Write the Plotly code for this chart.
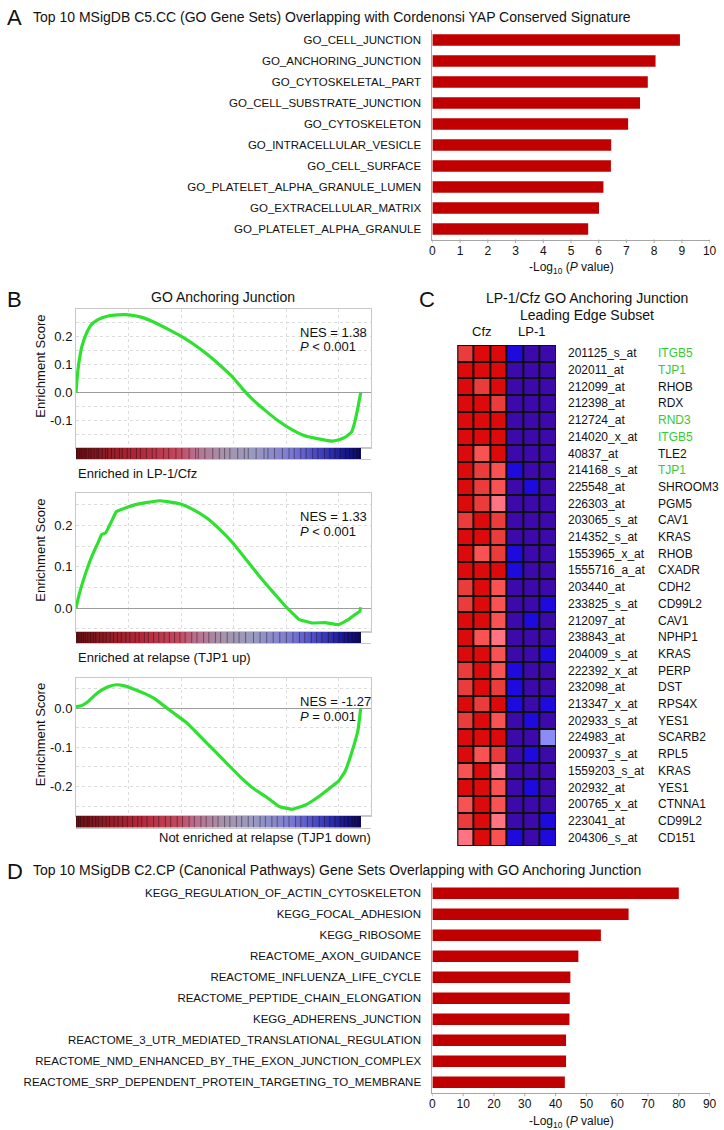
import plotly.graph_objects as go

W, H = 724, 1130
FONT = "Liberation Sans, Arial, Helvetica, sans-serif"


def X(px):
    return px / W


def Y(py):
    return 1 - py / H


# ---------------- Panel A data ----------------
a_terms = ["GO_CELL_JUNCTION", "GO_ANCHORING_JUNCTION", "GO_CYTOSKELETAL_PART",
           "GO_CELL_SUBSTRATE_JUNCTION", "GO_CYTOSKELETON", "GO_INTRACELLULAR_VESICLE",
           "GO_CELL_SURFACE", "GO_PLATELET_ALPHA_GRANULE_LUMEN", "GO_EXTRACELLULAR_MATRIX",
           "GO_PLATELET_ALPHA_GRANULE"]
a_values = [8.93, 8.05, 7.77, 7.49, 7.06, 6.45, 6.44, 6.17, 6.01, 5.62]
a_ticks = [0, 1, 2, 3, 4, 5, 6, 7, 8, 9, 10]

# ---------------- Panel D data ----------------
d_terms = ["KEGG_REGULATION_OF_ACTIN_CYTOSKELETON", "KEGG_FOCAL_ADHESION", "KEGG_RIBOSOME",
           "REACTOME_AXON_GUIDANCE", "REACTOME_INFLUENZA_LIFE_CYCLE",
           "REACTOME_PEPTIDE_CHAIN_ELONGATION", "KEGG_ADHERENS_JUNCTION",
           "REACTOME_3_UTR_MEDIATED_TRANSLATIONAL_REGULATION",
           "REACTOME_NMD_ENHANCED_BY_THE_EXON_JUNCTION_COMPLEX",
           "REACTOME_SRP_DEPENDENT_PROTEIN_TARGETING_TO_MEMBRANE"]
d_values = [80.0, 63.7, 54.7, 47.4, 44.8, 44.6, 44.5, 43.4, 43.4, 43.0]
d_ticks = [0, 10, 20, 30, 40, 50, 60, 70, 80, 90]

# ---------------- Panel B data (GSEA running enrichment scores) ----------------
n_genes = 21650
es1_rank = [0, 100, 200, 450, 825, 1200, 1700, 2450, 3200, 4000, 4950, 5950, 6950, 7950,
            8950, 9950, 10950, 11950, 12700, 13450, 14450, 15450, 16450, 17450, 18450,
            19450, 20000, 20450, 20950, 21200, 21450, 21650]
es1_score = [0.0, 0.06, 0.10, 0.165, 0.215, 0.245, 0.262, 0.274, 0.278, 0.278, 0.270,
             0.252, 0.228, 0.203, 0.173, 0.138, 0.098, 0.054, 0.012, -0.025, -0.066,
             -0.103, -0.133, -0.155, -0.165, -0.173, -0.168, -0.160, -0.141, -0.105,
             -0.051, 0.0]
es2_rank = [0, 200, 575, 1200, 1700, 1950, 2250, 2700, 3075, 3700, 4450, 5450, 6325, 6950,
            7950, 8950, 9950, 10950, 11950, 12950, 13950, 14950, 15950, 16450, 16950,
            17950, 18950, 19950, 20700, 21200, 21575, 21650]
es2_score = [0.0, 0.028, 0.069, 0.125, 0.160, 0.178, 0.182, 0.210, 0.234, 0.242, 0.250,
             0.256, 0.260, 0.258, 0.252, 0.238, 0.218, 0.190, 0.157, 0.117, 0.077, 0.040,
             0.004, -0.012, -0.027, -0.036, -0.035, -0.040, -0.028, -0.016, -0.008, 0.002]
es3_rank = [0, 450, 950, 1450, 1950, 2450, 3075, 3700, 4450, 5200, 5950, 6700, 7450, 8450,
            9450, 10450, 11450, 12450, 13450, 14450, 15450, 16450, 17450, 18450, 19450,
            19950, 20450, 20950, 21450, 21650]
es3_score = [0.004, 0.007, 0.018, 0.034, 0.046, 0.055, 0.060, 0.057, 0.048, 0.038, 0.025,
             0.006, -0.013, -0.038, -0.072, -0.106, -0.140, -0.174, -0.204, -0.226, -0.251,
             -0.258, -0.247, -0.226, -0.200, -0.187, -0.162, -0.115, -0.055, 0.0]
es_tickvals = [[-0.1, 0.0, 0.1, 0.2], [0.0, 0.1, 0.2], [-0.2, -0.1, 0.0]]
es_ticktext = [["-0.1", "0.0", "0.1", "0.2"], ["0.0", "0.1", "0.2"], ["-0.2", "-0.1", "0.0"]]
es_ranges = [[-0.196, 0.298], [-0.0566, 0.278], [-0.275, 0.078]]
nes_text = ["NES = 1.38", "NES = 1.33", "NES = -1.27"]
p_text = ["<i>P</i> &lt; 0.001", "<i>P</i> &lt; 0.001", "<i>P</i> = 0.001"]
bar_labels = ["Enriched in LP-1/Cfz", "Enriched at relapse (TJP1 up)",
              "Not enriched at relapse (TJP1 down)"]
# gene-set member positions in the ranked lists (estimated)
hits1 = [40, 150, 290, 430, 610, 760, 980, 1150, 1380, 1600, 1720, 1990, 2250, 2400, 2700,
         2950, 3300, 3520, 3900, 4150, 4600, 4900, 5350, 5800, 6100, 6650, 7050, 7600,
         8050, 8600, 9100, 9300, 9800, 10400, 10900, 11300, 11700, 12300, 12800, 13100,
         13700, 14300, 14600, 15100, 15700, 16200, 16600, 17100, 17500, 18000, 18400,
         18900, 19300, 19700, 20100, 20500, 20800, 21100, 21350, 21550]
hits2 = [80, 220, 400, 560, 700, 900, 1100, 1320, 1500, 1800, 2050, 2300, 2600, 2850,
         3150, 3450, 3800, 4100, 4500, 4800, 5200, 5500, 5900, 6300, 6700, 7100, 7500,
         7900, 8300, 8800, 9200, 9700, 10100, 10600, 11000, 11500, 12000, 12400, 12900,
         13500, 14000, 14500, 15000, 15500, 16000, 16500, 17000, 17400, 17900, 18300,
         18700, 19200, 19600, 20000, 20400, 20700, 21000, 21250, 21500]
hits3 = [30, 200, 350, 600, 850, 1000, 1250, 1500, 1700, 2000, 2300, 2550, 2900, 3200,
         3550, 3900, 4300, 4700, 5000, 5400, 5900, 6300, 6800, 7200, 7700, 8100, 8600,
         9000, 9500, 9900, 10400, 10800, 11300, 11700, 12200, 12600, 13100, 13500, 14000,
         14400, 14900, 15300, 15800, 16200, 16700, 17100, 17600, 18000, 18500, 18900,
         19300, 19700, 20100, 20400, 20700, 21000, 21200, 21450, 21600]

# ---------------- Panel C data (leading edge heatmap) ----------------
c_samples = ["Cfz", "Cfz", "Cfz", "LP-1", "LP-1", "LP-1"]
c_probes = ["201125_s_at", "202011_at", "212099_at", "212398_at", "212724_at", "214020_x_at",
            "40837_at", "214168_s_at", "225548_at", "226303_at", "203065_s_at",
            "214352_s_at", "1553965_x_at", "1555716_a_at", "203440_at", "233825_s_at",
            "212097_at", "238843_at", "204009_s_at", "222392_x_at", "232098_at",
            "213347_x_at", "202933_s_at", "224983_at", "200937_s_at", "1559203_s_at",
            "202932_at", "200765_x_at", "223041_at", "204306_s_at"]
c_genes = ["ITGB5", "TJP1", "RHOB", "RDX", "RND3", "ITGB5", "TLE2", "TJP1", "SHROOM3", "PGM5",
           "CAV1", "KRAS", "RHOB", "CXADR", "CDH2", "CD99L2", "CAV1", "NPHP1", "KRAS", "PERP",
           "DST", "RPS4X", "YES1", "SCARB2", "RPL5", "KRAS", "YES1", "CTNNA1", "CD99L2",
           "CD151"]
c_highlight = ["ITGB5", "TJP1", "RND3"]
# expression level codes: 4 dark red, 3 red, 2 light red, 1 pink, -1 lavender, -2 blue, -3 indigo
c_levels = [
    [3, 4, 4, -2, -3, -3], [4, 4, 4, -3, -3, -3], [4, 3, 4, -3, -3, -3],
    [4, 4, 3, -3, -3, -3], [4, 4, 4, -3, -3, -3], [4, 4, 4, -3, -3, -3],
    [4, 2, 4, -3, -3, -3], [4, 3, 2, -2, -3, -3], [4, 3, 2, -3, -2, -3],
    [4, 3, 1, -3, -3, -3], [3, 4, 3, -3, -3, -3], [4, 4, 3, -3, -3, -3],
    [4, 2, 3, -2, -3, -3], [4, 4, 4, -2, -3, -3], [3, 4, 2, -3, -3, -3],
    [3, 4, 2, -3, -3, -2], [4, 4, 2, -3, -2, -3], [4, 2, 1, -3, -3, -3],
    [4, 4, 2, -3, -3, -2], [3, 4, 2, -2, -3, -3], [3, 4, 3, -2, -3, -3],
    [4, 3, 4, -2, -3, -2], [3, 4, 2, -3, -2, -3], [4, 4, 4, -3, -3, -1],
    [4, 2, 3, -3, -2, -3], [2, 4, 1, -3, -3, -3], [4, 4, 2, -3, -2, -3],
    [2, 4, 2, -3, -3, -3], [3, 4, 1, -3, -3, -2], [1, 4, 2, -2, -3, -2],
]

# ---------------- styles ----------------
BAR_RED = "#C00000"
AXIS_GRAY = "#A6A6A6"
BOX_GRAY = "#C8C8C8"
GRID_GRAY = "#DCDCDC"
ES_GREEN = "#30E030"
heat_scale = [[0.0, "#3C0AAA"], [1 / 7, "#1E0ADC"], [2 / 7, "#8C8CF5"], [3 / 7, "#FFFFFF"],
              [4 / 7, "#FF7382"], [5 / 7, "#F95252"], [6 / 7, "#EB3C3C"], [1.0, "#DC0A0A"]]
barcode_scale = [[0.0, "#6A1212"], [0.10, "#8C1C24"], [0.22, "#B02838"], [0.36, "#C04A5E"],
                 [0.42, "#B8708E"], [0.52, "#A494AC"], [0.62, "#9A9AC0"], [0.75, "#7C7CD2"],
                 [0.86, "#4040BC"], [0.94, "#18188E"], [1.0, "#0A0A5C"]]

fig = go.Figure()
annotations = []
shapes = []


def ann(text, x, y, size, xanchor="left", color="#111111", xref="paper", yref="paper",
        angle=0):
    annotations.append(dict(text=text, x=x, y=y, xref=xref, yref=yref, xanchor=xanchor,
                            yanchor="middle", showarrow=False, textangle=angle,
                            font=dict(size=size, color=color, family=FONT)))


# ---------------- Panel A & D bar charts ----------------
def bar_panel(terms, values, ticks, xa, ya, top, bottom, title_y, axis_title_y, letter,
              title):
    fig.add_trace(go.Bar(x=values, y=terms, orientation="h", marker_color=BAR_RED,
                         marker_line_width=0, xaxis=xa, yaxis=ya, hoverinfo="skip"))
    xkey = "xaxis" + xa[1:]
    ykey = "yaxis" + ya[1:]
    fig.update_layout(**{
        xkey: dict(domain=[X(435.4), X(716.5)], range=[ticks[0], ticks[-1]], anchor=ya,
                   tickvals=ticks, showline=True, linecolor=AXIS_GRAY, linewidth=1,
                   ticks="", showgrid=False, zeroline=False,
                   tickfont=dict(size=12, family=FONT, color="#111111")),
        ykey: dict(domain=[Y(bottom), Y(top)], anchor=xa, type="category",
                   categoryorder="array", categoryarray=terms,
                   range=[len(terms) - 0.5, -0.5], showline=True, linecolor=AXIS_GRAY,
                   linewidth=1, ticks="outside", ticklen=8, tickcolor="rgba(0,0,0,0)",
                   showgrid=False, zeroline=False,
                   tickfont=dict(size=11.5, family=FONT, color="#111111")),
    })
    # small outside tick marks at the axis tick values
    for t in ticks:
        shapes.append(dict(type="line", xref=xa, yref="paper", x0=t, x1=t,
                           y0=Y(bottom), y1=Y(bottom + 3.5),
                           line=dict(color=AXIS_GRAY, width=1)))
    ann(letter, X(2), Y(title_y + 1), 22)
    ann(title, X(28), Y(title_y), 14)
    ann("-Log<sub>10</sub> (<i>P</i> value)", X(576), Y(axis_title_y), 12, xanchor="center")


bar_panel(a_terms, a_values, a_ticks, "x", "y", 29.5, 239.5, 17, 268, "A",
          "Top 10 MSigDB C5.CC (GO Gene Sets) Overlapping with Cordenonsi YAP Conserved Signature")
bar_panel(d_terms, d_values, d_ticks, "x9", "y9", 882.8, 1092.8, 870, 1121.5, "D",
          "Top 10 MSigDB C2.CP (Canonical Pathways) Gene Sets Overlapping with GO Anchoring Junction")

# ---------------- Panel B GSEA plots ----------------
curves = [(es1_rank, es1_score), (es2_rank, es2_score), (es3_rank, es3_score)]
hit_lists = [hits1, hits2, hits3]
curve_tops = [309.3, 493.3, 677.7]
curve_h = 138.2
bar_h = 11.6
bin_centers = list(range(25, n_genes, 50))
for i in range(3):
    cx, cy = "x%d" % (2 + 2 * i), "y%d" % (2 + 2 * i)
    bx, by = "x%d" % (3 + 2 * i), "y%d" % (3 + 2 * i)
    top = curve_tops[i]
    bottom = top + curve_h
    fig.add_trace(go.Scatter(x=curves[i][0], y=curves[i][1], mode="lines",
                             line=dict(color=ES_GREEN, width=3.2, shape="spline",
                                       smoothing=0.3),
                             xaxis=cx, yaxis=cy, hoverinfo="skip"))
    fig.add_trace(go.Heatmap(x=bin_centers, y=[0.5], z=[bin_centers], zmin=0, zmax=n_genes,
                             colorscale=barcode_scale, showscale=False, xaxis=bx, yaxis=by,
                             hoverinfo="skip"))
    hx, hy = [], []
    for h in hit_lists[i]:
        hx += [h, h, None]
        hy += [0, 1, None]
    fig.add_trace(go.Scatter(x=hx, y=hy, mode="lines",
                             line=dict(color="rgba(25,0,15,0.42)", width=1),
                             xaxis=bx, yaxis=by, hoverinfo="skip"))
    fig.update_layout(**{
        "xaxis%d" % (2 + 2 * i): dict(domain=[X(74), X(372.7)], range=[0, 22400],
                                       anchor=cy, showticklabels=False, ticks="",
                                       showgrid=True, tick0=0, dtick=4000,
                                       gridcolor=GRID_GRAY, griddash="dot", zeroline=False,
                                       showline=True, mirror=True, linecolor=BOX_GRAY),
        "yaxis%d" % (2 + 2 * i): dict(domain=[Y(bottom), Y(top)], range=es_ranges[i],
                                       anchor=cx, tickmode="array", tickvals=es_tickvals[i],
                                       ticktext=es_ticktext[i], ticks="", showgrid=True,
                                       gridcolor=GRID_GRAY, griddash="dot",
                                       minor=dict(tickmode="linear", tick0=0, dtick=0.05,
                                                  showgrid=True, gridcolor=GRID_GRAY,
                                                  griddash="dot", ticks=""),
                                       zeroline=True, zerolinecolor="#9C9C9C",
                                       zerolinewidth=1, showline=True, mirror=True,
                                       linecolor=BOX_GRAY,
                                       tickfont=dict(size=13, family=FONT, color="#111111")),
        "xaxis%d" % (3 + 2 * i): dict(domain=[X(74), X(372.7)], range=[0, 22400],
                                       anchor=by, showticklabels=False, ticks="",
                                       showgrid=False, zeroline=False, showline=True,
                                       mirror=True, linecolor=BOX_GRAY),
        "yaxis%d" % (3 + 2 * i): dict(domain=[Y(bottom + bar_h), Y(bottom)], range=[0, 1],
                                       anchor=bx, showticklabels=False, ticks="",
                                       showgrid=False, zeroline=False, showline=False),
    })
    ann("Enrichment Score", X(38), Y(top + 57), 13, xanchor="center", angle=-90)
    ann(nes_text[i], X(299.3), Y(top + [23.4, 23.4, 24][i]), 13)
    ann(p_text[i], X(299.3), Y(top + [37.4, 38.4, 39][i]), 13)
    if i < 2:
        ann(bar_labels[i], X(74), Y(bottom + bar_h + 14.5), 13)
    else:
        ann(bar_labels[i], X(375), Y(bottom + bar_h + 9.5), 13, xanchor="right")

ann("B", X(2), Y(299), 22)
ann("GO Anchoring Junction", X(223.4), Y(297), 14, xanchor="center")

# ---------------- Panel C heatmap ----------------
nrow = len(c_probes)
fig.add_trace(go.Heatmap(z=c_levels, x=list(range(6)), y=list(range(nrow)), zmin=-3, zmax=4,
                         colorscale=heat_scale, showscale=False, xgap=2, ygap=2,
                         xaxis="x8", yaxis="y8", hoverinfo="skip"))
fig.update_layout(
    xaxis8=dict(domain=[X(460.7), X(560.7)], range=[-0.5, 5.5], anchor="y8", visible=False),
    yaxis8=dict(domain=[Y(846), Y(345)], range=[nrow - 0.5, -0.5], anchor="x8",
                visible=False),
)
shapes.append(dict(type="rect", xref="x8", yref="y8", x0=-0.5, x1=5.5, y0=-0.5,
                   y1=nrow - 0.5, fillcolor="#101010", line=dict(color="#101010", width=2),
                   layer="below"))
for r in range(nrow):
    ann(c_probes[r], X(571), r, 12, yref="y8")
    col = "#33CC33" if c_genes[r] in c_highlight else "#111111"
    ann(c_genes[r], X(662), r, 12, yref="y8", color=col)
ann(c_samples[0], 1, Y(331), 13, xanchor="center", xref="x8")
ann(c_samples[3], 4, Y(331), 13, xanchor="center", xref="x8")
ann("C", X(430), Y(299), 22, xanchor="center")
ann("LP-1/Cfz GO Anchoring Junction", X(592), Y(297.5), 14, xanchor="center")
ann("Leading Edge Subset", X(592), Y(314.5), 14, xanchor="center")

fig.update_layout(
    width=W, height=H, margin=dict(l=0, r=0, t=0, b=0), showlegend=False,
    paper_bgcolor="white", plot_bgcolor="white", bargap=0.45,
    font=dict(family=FONT, color="#111111"),
    annotations=annotations, shapes=shapes,
)

fig.write_html("out.html", config={"displayModeBar": False},
               post_script="document.body.style.margin='0';document.body.style.padding='0';")
